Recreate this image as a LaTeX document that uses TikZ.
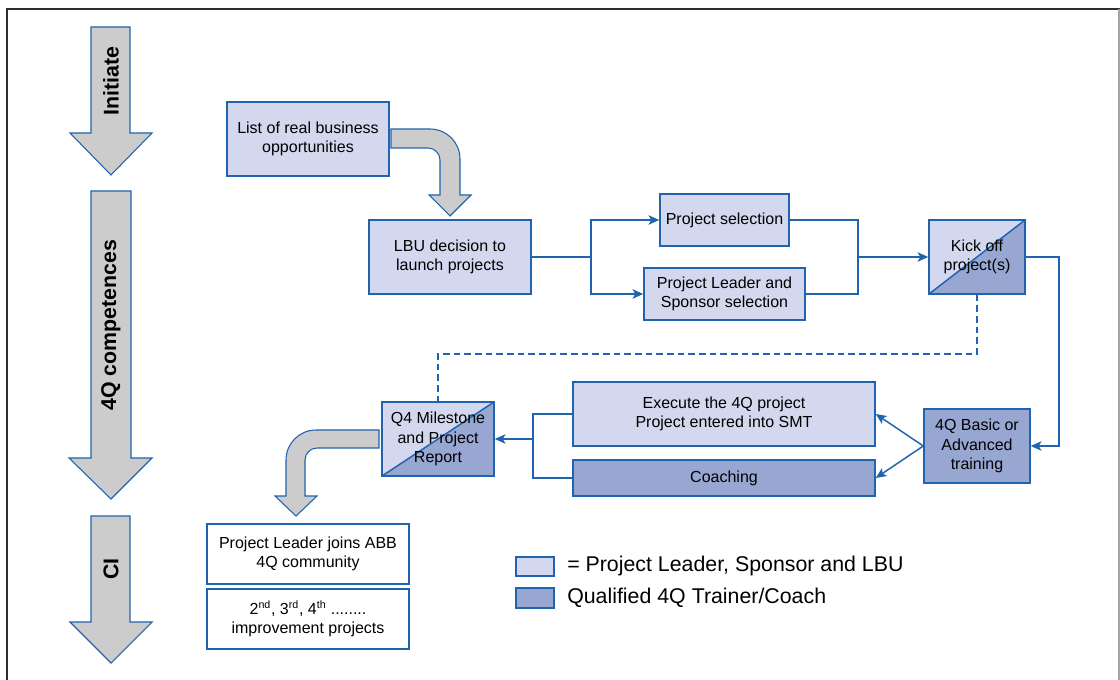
\documentclass[tikz,border=0pt]{standalone}
\usepackage{fontspec}
\setmainfont{Liberation Sans}
\usetikzlibrary{arrows.meta}
\definecolor{abbblue}{HTML}{2063AE}
\definecolor{lightbox}{HTML}{D4D8EE}
\definecolor{darkbox}{HTML}{98A6D2}
\definecolor{arrowgrey}{HTML}{CCCCCC}
\definecolor{framegrey}{HTML}{2E2E2E}
\begin{document}
\begin{tikzpicture}[x=0.75pt,y=-0.75pt,
  box/.style={draw=abbblue, line width=1.1pt, fill=lightbox, align=center,
    font=\fontsize{12}{14.4}\selectfont, inner sep=0pt},
  darkbox/.style={box, fill=darkbox},
  whitebox/.style={box, fill=white},
  splitbox/.style={box, path picture={
    \fill[darkbox] (path picture bounding box.south west) --
      (path picture bounding box.south east) --
      (path picture bounding box.north east) -- cycle;}},
  conn/.style={draw=abbblue, line width=1.1pt},
  arrowed/.style={conn, -{Stealth[length=8pt,width=7pt,inset=2pt]}},
  bigarrow/.style={fill=arrowgrey, draw=abbblue, line width=0.8pt, line join=miter},
  vlabel/.style={rotate=90, font=\bfseries\fontsize{16}{19}\selectfont},
  legendtext/.style={anchor=west, font=\fontsize{16}{19}\selectfont, inner sep=0pt}
]
\useasboundingbox (0,0) rectangle (1120,680);
\fill[white] (0,0) rectangle (1120,680);
% frame
\draw[framegrey, line width=2pt] (7,680) -- (7,9) -- (1120,9);
\draw[gray!70, line width=1pt] (1119,9) -- (1119,680);

% phase arrows
\draw[bigarrow] (91,27) -- (130,27) -- (130,133) -- (152,133) -- (111,175) -- (70,133) -- (91,133) -- cycle;
\draw[bigarrow] (91,191) -- (131,191) -- (131,458) -- (152,458) -- (111,499) -- (69,458) -- (91,458) -- cycle;
\draw[bigarrow] (91,516) -- (130,516) -- (130,622) -- (152,622) -- (111,663) -- (70,622) -- (91,622) -- cycle;
\node[vlabel] (lblinit) at (111,81) {Initiate};
\node[vlabel] (lbl4q) at (111,325) {4Q competences};
\node[vlabel] (lblci) at (111,569) {CI};

% boxes
\node[box, minimum width=121.5pt, minimum height=55.5pt] (list) at (308,139) {List of real business\\opportunities};
\node[box, minimum width=121.5pt, minimum height=55.5pt] (lbu) at (450,257) {LBU decision to\\launch projects};
\node[box, minimum width=96.75pt, minimum height=39pt] (psel) at (724.5,220) {Project selection};
\node[box, minimum width=120.75pt, minimum height=39pt] (plsel) at (724.5,294) {Project Leader and\\Sponsor selection};
\node[splitbox, minimum width=72pt, minimum height=55.5pt] (kick) at (977,257) {Kick off\\project(s)};
\node[darkbox, minimum width=79.5pt, minimum height=55.5pt] (train) at (977,446) {4Q Basic or\\Advanced\\training};
\node[box, minimum width=226.5pt, minimum height=48pt] (exec) at (724,414) {Execute the 4Q project\\Project entered into SMT};
\node[darkbox, minimum width=226.5pt, minimum height=27pt] (coach) at (724,478) {Coaching};
\node[splitbox, minimum width=84pt, minimum height=55.5pt] (q4) at (438,439) {Q4 Milestone\\and Project\\Report};
\node[whitebox, minimum width=151.5pt, minimum height=45pt] (join) at (308,554) {Project Leader joins ABB\\4Q community};
\node[whitebox, minimum width=151.5pt, minimum height=45pt] (next) at (308,619) {2\textsuperscript{nd}, 3\textsuperscript{rd}, 4\textsuperscript{th} ........\\improvement projects};

% curved grey arrows
\draw[bigarrow] (391,129) -- (430,129) .. controls (446.6,129) and (460,142.4) .. (460,159)
  -- (460,195) -- (471,195) -- (450,216) -- (429,195) -- (440,195) -- (440,160)
  .. controls (440,153.4) and (434.6,148) .. (428,148) -- (391,148) -- cycle;
\draw[bigarrow] (379,430) -- (316,430) .. controls (299.4,430) and (286,443.4) .. (286,460)
  -- (286,496) -- (275,496) -- (296,516) -- (317,496) -- (305,496) -- (305,460)
  .. controls (305,453.4) and (310.4,448) .. (317,448) -- (379,448) -- cycle;

% connectors
\coordinate (split1) at (591,257);
\coordinate (merge1) at (858,257);
\draw[conn] (lbu.east) -- (split1);
\draw[arrowed] (split1) |- (psel.west);
\draw[arrowed] (split1) |- (plsel.west);
\draw[conn] (psel.east) -| (merge1);
\draw[conn] (plsel.east) -| (merge1);
\draw[arrowed] (merge1) -- (kick.west);
\coordinate (kickout) at (1059,257);
\draw[arrowed] (kick.east) -- (kickout) |- (train.east);
\draw[arrowed] (train.west) -- (exec.east);
\draw[arrowed] (train.west) -- (coach.east);
\coordinate (merge2) at (533,439);
\draw[conn] (exec.west) -| (merge2);
\draw[conn] (coach.west) -| (merge2);
\draw[arrowed] (merge2) -- (q4.east);
\coordinate (dashcorner) at (977,354);
\draw[conn, dashed, dash pattern=on 5pt off 3pt] (kick.south) -- (dashcorner) -| (q4.north);

% legend
\node[box, minimum width=28.5pt, minimum height=14.25pt] (leg1) at (535,566.5) {};
\node[darkbox, minimum width=28.5pt, minimum height=15pt] (leg2) at (535,598) {};
\node[legendtext] (legt1) at (567,566) {= Project Leader, Sponsor and LBU};
\node[legendtext] (legt2) at (567,598) {Qualified 4Q Trainer/Coach};
\end{tikzpicture}
\end{document}
